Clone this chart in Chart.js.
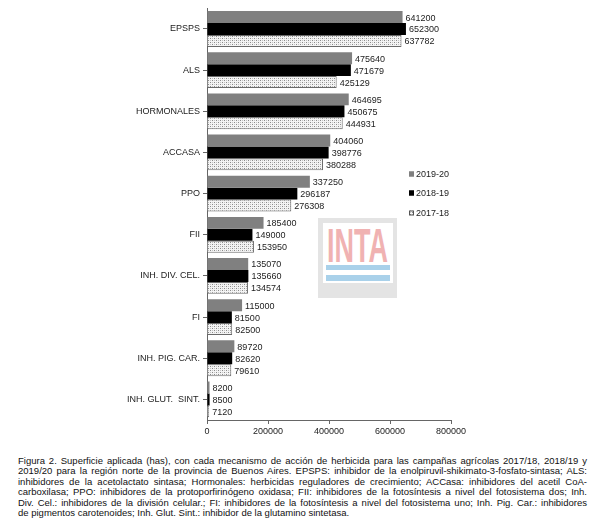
<!DOCTYPE html>
<html>
<head>
<meta charset="utf-8">
<script src="https://cdn.jsdelivr.net/npm/chart.js@4"></script>
<style>
  body { margin: 0; background: #fff; font-family: "Liberation Sans", Arial, sans-serif; }
  #wrap { position: relative; width: 603px; height: 525px; }
  #box { position: absolute; left: 0; top: 0; width: 603px; height: 440px; }
  #logo { position: absolute; left: 318px; top: 218px; }
  #caption { position: absolute; left: 18px; top: 456px; width: 569px; font-size: 9.5px; line-height: 10.4px; color: #111; }
  #caption span { display: block; white-space: nowrap; text-align: justify; text-align-last: justify; }
  #caption span.last { text-align-last: left; }
</style>
</head>
<body>
<div id="wrap">
  <div id="box"><canvas id="myChart"></canvas></div>
  <svg id="logo" width="79" height="80" viewBox="0 0 79 80">
    <rect x="0" y="0" width="79" height="80" fill="#e4e4e4"/>
    <rect x="5" y="5" width="70" height="60" fill="#ffffff"/>
    <text x="9" y="44" font-family="'Liberation Sans Narrow', 'Liberation Sans', sans-serif" font-weight="bold" font-size="48" fill="#f0b2b2" textLength="61" lengthAdjust="spacingAndGlyphs">INTA</text>
    <rect x="8" y="47" width="64" height="5" fill="#a9d1ea"/>
    <rect x="8" y="57" width="64" height="6" fill="#a9d1ea"/>
  </svg>
  <div id="caption"><span>Figura 2. Superficie aplicada (has), con cada mecanismo de acción de herbicida para las campañas agrícolas 2017/18, 2018/19 y</span><span>2019/20 para la región norte de la provincia de Buenos Aires. EPSPS: inhibidor de la enolpiruvil-shikimato-3-fosfato-sintasa; ALS:</span><span>inhibidores de la acetolactato sintasa; Hormonales: herbicidas reguladores de crecimiento; ACCasa: inhibidores del acetil CoA-</span><span>carboxilasa; PPO: inhibidores de la protoporfirinógeno oxidasa; FII: inhibidores de la fotosíntesis a nivel del fotosistema dos; Inh.</span><span>Div. Cel.: inhibidores de la división celular.; FI: inhibidores de la fotosíntesis a nivel del fotosistema uno; Inh. Pig. Car.: inhibidores</span><span class="last">de pigmentos carotenoides; Inh. Glut. Sint.: inhibidor de la glutamino sintetasa.</span></div>
</div>
<script>
const categories = ["EPSPS", "ALS", "HORMONALES", "ACCASA", "PPO", "FII", "INH. DIV. CEL.", "FI", "INH. PIG. CAR.", "INH. GLUT.  SINT."];
const v1920 = [641200, 475640, 464695, 404060, 337250, 185400, 135070, 115000, 89720, 8200];
const v1819 = [652300, 471679, 450675, 398776, 296187, 149000, 135660, 81500, 82620, 8500];
const v1718 = [637782, 425129, 444931, 380288, 276308, 153950, 134574, 82500, 79610, 7120];
const seriesNames = ["2019-20", "2018-19", "2017-18"];
const xTicks = [0, 200000, 400000, 600000, 800000];

// dotted fill used for 2017-18
function makePattern() {
    const c = document.createElement("canvas");
    c.width = 4;
    c.height = 4;
    const p = c.getContext("2d");
    p.fillStyle = "#f4f4f4";
    p.fillRect(0, 0, 4, 4);
    p.fillStyle = "#8a8a8a";
    p.fillRect(0, 0, 1, 1);
    p.fillRect(2, 2, 1, 1);
    p.fillStyle = "#c4c4c4";
    p.fillRect(2, 0, 1, 1);
    p.fillRect(0, 2, 1, 1);
    return p.createPattern(c, "repeat");
}
const dots = makePattern();

const font = { family: "'Liberation Sans', Arial, sans-serif", size: 9 };

// value labels at the end of each bar
const valueLabels = {
    id: "valueLabels",
    afterDatasetsDraw(chart) {
        const { ctx } = chart;
        ctx.save();
        ctx.font = "9px 'Liberation Sans', Arial, sans-serif";
        ctx.fillStyle = "#222";
        ctx.textAlign = "left";
        ctx.textBaseline = "middle";
        chart.data.datasets.forEach((ds, i) => {
            chart.getDatasetMeta(i).data.forEach((bar, j) => {
                ctx.fillText(String(ds.data[j]), bar.x + 3, bar.y + 1);
            });
        });
        ctx.restore();
    },
};

// small legend inside the plot, on the right
const sideLegend = {
    id: "sideLegend",
    afterDraw(chart) {
        const { ctx } = chart;
        const x0 = 409;
        const ys = [174, 193, 213];
        ctx.save();
        ctx.font = "9px 'Liberation Sans', Arial, sans-serif";
        ctx.textBaseline = "middle";
        chart.data.datasets.forEach((ds, i) => {
            ctx.fillStyle = ds.backgroundColor;
            ctx.fillRect(x0, ys[i] - 2.5, 5, 5);
            ctx.strokeStyle = i === 2 ? "#555" : ds.backgroundColor;
            ctx.lineWidth = 1;
            ctx.strokeRect(x0 + 0.5, ys[i] - 2, 4, 4);
            ctx.fillStyle = "#222";
            ctx.fillText(ds.label, x0 + 7, ys[i] + 0.5);
        });
        ctx.restore();
    },
};

const chart = new Chart(document.getElementById("myChart").getContext("2d"), {
    type: "bar",
    data: {
        labels: categories,
        datasets: [
            { label: seriesNames[0], data: v1920, backgroundColor: "#808080", borderWidth: 0 },
            { label: seriesNames[1], data: v1819, backgroundColor: "#000000", borderWidth: 0 },
            { label: seriesNames[2], data: v1718, backgroundColor: dots, borderColor: "#6a6a6a", borderWidth: 1 },
        ],
    },
    options: {
        indexAxis: "y",
        responsive: true,
        maintainAspectRatio: false,
        animation: false,
        categoryPercentage: 0.87,
        barPercentage: 1,
        layout: { padding: { top: 6, right: 152, left: 0, bottom: 0 } },
        scales: {
            x: {
                min: 0,
                max: 800000,
                afterBuildTicks: (scale) => {
                    scale.ticks = xTicks.map((v) => ({ value: v }));
                },
                afterFit: (scale) => {
                    scale.height = 20;
                },
                ticks: {
                    color: "#222",
                    font: font,
                    padding: 2,
                    maxRotation: 0,
                    callback: (v) => String(v),
                },
                grid: { drawOnChartArea: false, drawTicks: true, tickLength: 4, color: "#666" },
                border: { color: "#666" },
            },
            y: {
                afterFit: (scale) => {
                    scale.width = 207;
                },
                ticks: { color: "#222", font: font, padding: 3, autoSkip: false },
                grid: { offset: false, drawOnChartArea: false, drawTicks: true, tickLength: 4, color: "#666" },
                border: { color: "#666" },
            },
        },
        plugins: {
            legend: { display: false },
            tooltip: { enabled: false },
        },
    },
    plugins: [valueLabels, sideLegend],
});
</script>
</body>
</html>
